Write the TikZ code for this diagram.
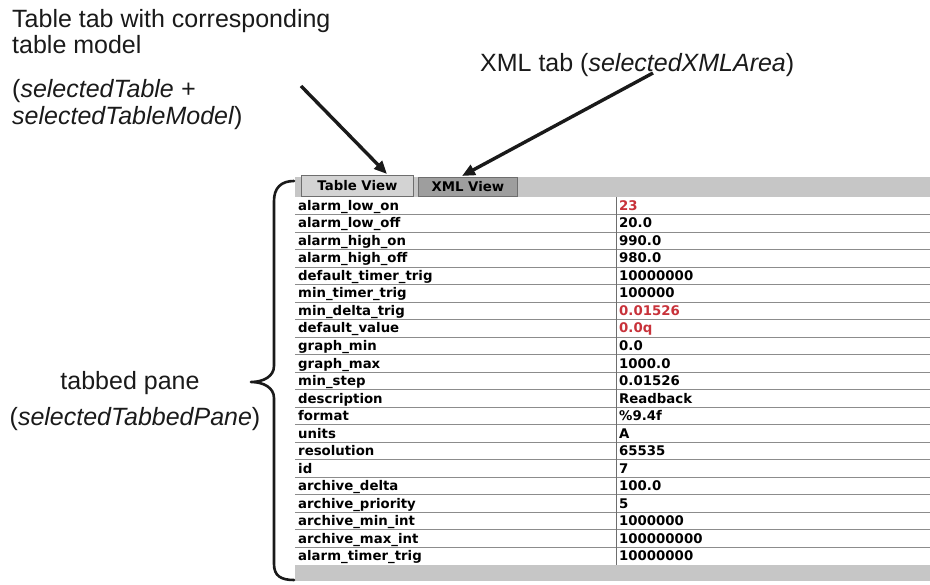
\documentclass[tikz,border=0pt]{standalone}
\usepackage{fontspec}
\setmainfont{Liberation Sans}
\newfontfamily\uifont{DejaVu Sans}
\usetikzlibrary{arrows.meta,calc}
\definecolor{ink}{HTML}{1A1A1A}
\definecolor{tabbar}{HTML}{C6C6C6}
\definecolor{tabsel}{HTML}{D3D3D3}
\definecolor{tabother}{HTML}{9E9E9E}
\definecolor{tabedge}{HTML}{6E6E6E}
\definecolor{gridline}{HTML}{8C8C8C}
\definecolor{valred}{HTML}{C8323A}
\begin{document}
\begin{tikzpicture}[x=1pt,y=-1pt,
  note/.style={anchor=base west, inner sep=0pt, font=\fontsize{25}{27}\selectfont, text=ink},
  arr/.style={line width=3.4pt, draw=ink, -{Triangle[length=13pt,width=11pt]}},
  cell/.style={anchor=base west, inner sep=0pt, font=\uifont\bfseries\fontsize{13.3}{15}\selectfont},
  tabbox/.style={draw=tabedge, line width=0.8pt, anchor=north west, minimum height=21pt,
                 inner sep=0pt, font=\uifont\bfseries\fontsize{13.3}{15}\selectfont},
  bracepath/.style={line width=2.6pt, draw=ink, line cap=round, line join=round}]
\useasboundingbox (0,0) rectangle (930,585);
\fill[white] (0,0) rectangle (930,585);

% annotations
\node[note] (tt1) at (12,28) {Table tab with corresponding};
\node[note] (tt2) at (12,54) {table model};
\node[note] (tt3) at (12,98) {(\textit{selectedTable +}};
\node[note] (tt4) at (12,125) {\textit{selectedTableModel})};
\node[note] (xt) at (480,72) {XML tab (\textit{selectedXMLArea})};
\node[note, anchor=base] (tp1) at (130,390) {tabbed pane};
\node[note, anchor=base] (tp2) at (135,426) {(\textit{selectedTabbedPane})};

% window: tab strip, table body, bottom strip
\fill[tabbar] (295,177) rectangle (930,197);
\fill[white] (295,197) rectangle (930,565);
\fill[tabbar] (295,565) rectangle (930,581);

\node[tabbox, fill=tabsel, minimum width=112pt] (tabT) at (301,175) {Table View};
\node[tabbox, fill=tabother, minimum width=99pt, minimum height=19pt] (tabX) at (418,177) {XML View};

% row separators and column divider
\foreach \k in {1,...,20}
  \draw[gridline, line width=0.9pt] (295,{197+\k*17.52}) -- (930,{197+\k*17.52});
\draw[tabedge, line width=0.9pt] (616,197) -- (616,565);

% property rows
\foreach \lab/\val/\col [count=\i from 0] in {
  alarm\_low\_on/23/valred,
  alarm\_low\_off/20.0/black,
  alarm\_high\_on/990.0/black,
  alarm\_high\_off/980.0/black,
  default\_timer\_trig/10000000/black,
  min\_timer\_trig/100000/black,
  min\_delta\_trig/0.01526/valred,
  default\_value/0.0q/valred,
  graph\_min/0.0/black,
  graph\_max/1000.0/black,
  min\_step/0.01526/black,
  description/Readback/black,
  format/\%9.4f/black,
  units/A/black,
  resolution/65535/black,
  id/7/black,
  archive\_delta/100.0/black,
  archive\_priority/5/black,
  archive\_min\_int/1000000/black,
  archive\_max\_int/100000000/black,
  alarm\_timer\_trig/10000000/black}
{
  \pgfmathsetmacro\yb{197+(\i+0.5)*17.52+4.6}
  \node[cell] (lab\i) at (298,\yb) {\lab};
  \node[cell, text=\col] (val\i) at (619,\yb) {\val};
}

% brace spanning the tabbed pane
\draw[bracepath] (294,181) .. controls (281,181) and (274,188) .. (274,201)
  -- (274,366) .. controls (274,376) and (264,382) .. (251,382)
  .. controls (264,382) and (274,388) .. (274,398)
  -- (274,564) .. controls (274,576) and (281,580) .. (294,580);

% pointers to the tabs
\coordinate (a1s) at (301,86);
\coordinate (a2s) at (653,73);
\coordinate (a1e) at ($(tabT.north west)+(86,-1)$);
\coordinate (a2e) at ($(tabX.north west)+(44,-1)$);
\draw[arr] (a1s) -- (a1e);
\draw[arr] (a2s) -- (a2e);
\end{tikzpicture}
\end{document}
